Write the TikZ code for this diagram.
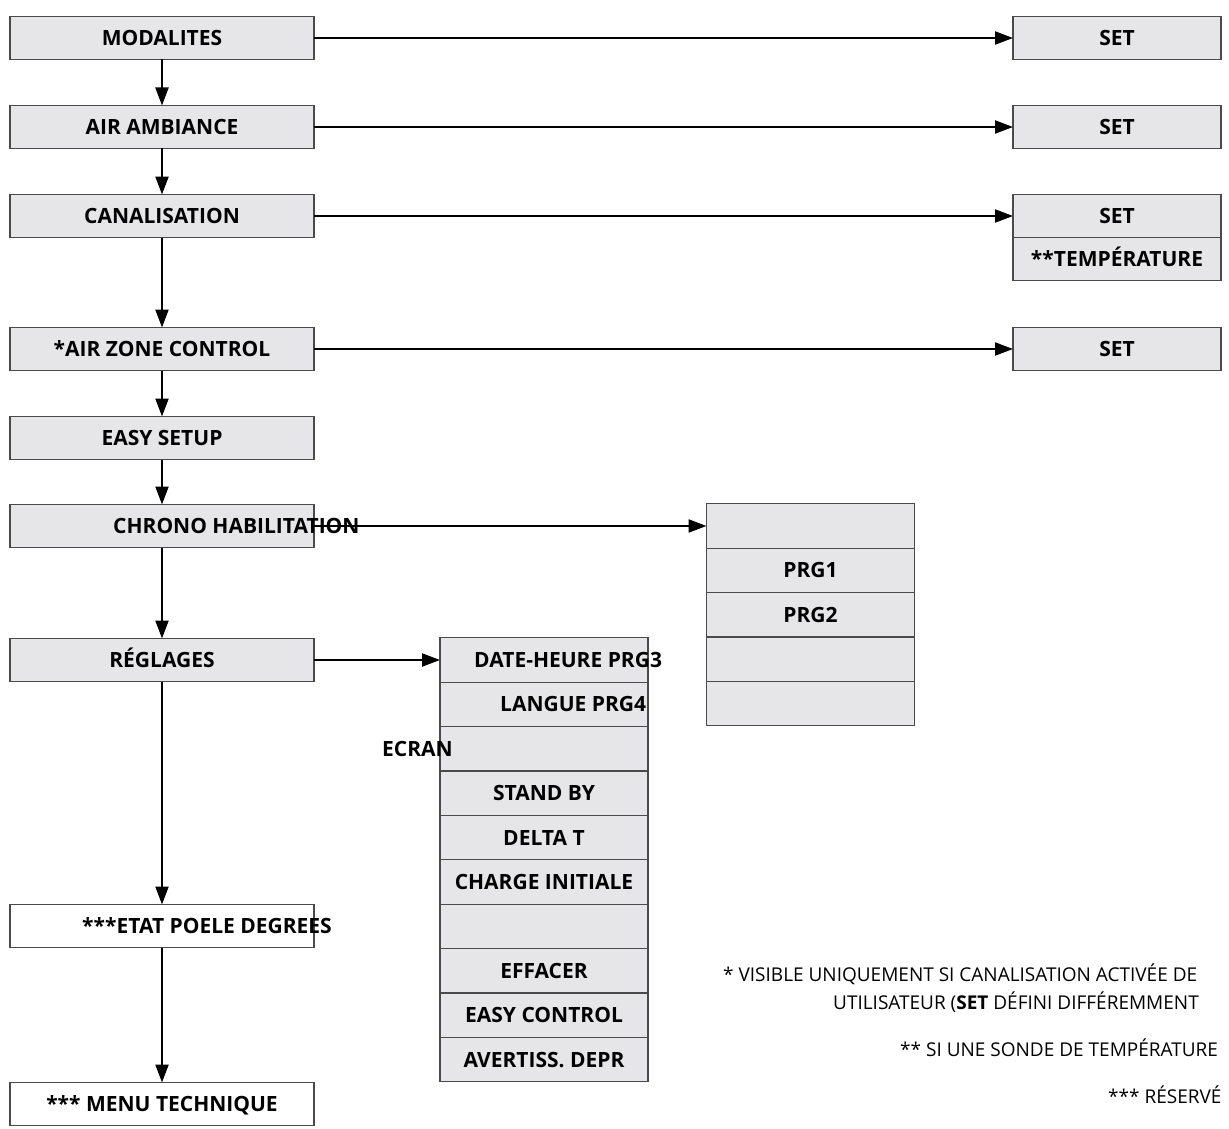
\documentclass[tikz,border=0pt]{standalone}
\usepackage{fontspec}
\setmainfont{Open Sans}
\usepackage{xcolor}
\usetikzlibrary{arrows.meta,positioning}
\definecolor{boxfill}{HTML}{E6E6E8}
\definecolor{boxline}{HTML}{4A4A4A}

\begin{document}
\begin{tikzpicture}[x=1pt, y=1pt,
  menu/.style={draw=boxline, fill=boxfill, line width=1.3pt, minimum width=304pt, minimum height=43pt,
    inner sep=0pt, outer sep=0pt, text height=15pt, text depth=0pt, font=\fontsize{21}{25}\selectfont\bfseries},
  tech/.style={menu, fill=white},
  setbox/.style={menu, minimum width=208pt},
  row/.style={menu, minimum width=208pt, minimum height=44.4pt},
  lbl/.style={inner sep=0pt, text height=15pt, text depth=0pt, font=\fontsize{21}{25}\selectfont\bfseries},
  note/.style={inner sep=0pt, anchor=west, text height=13.6pt, text depth=0pt, font=\fontsize{19}{23}\selectfont},
  arr/.style={line width=2.2pt, -{Triangle[length=18pt, width=13pt]}}
]
  \useasboundingbox (0,0) rectangle (1229,-1129);

  % main menu
  \node[menu] (modal) at (162,-38) {MODALITES};
  \node[menu] (airamb) at (162,-127) {AIR AMBIANCE};
  \node[menu] (canal) at (162,-216) {CANALISATION};
  \node[menu] (zone) at (162,-349) {*AIR ZONE CONTROL};
  \node[menu] (easy) at (162,-438) {EASY SETUP};
  \node[menu] (chrono) at (162,-526) {};
  \node[lbl, right=103pt of chrono.west] (chronolbl) {CHRONO HABILITATION};
  \node[menu] (regl) at (162,-660) {RÉGLAGES};
  \node[tech] (etat) at (162,-926) {};
  \node[lbl, right=72pt of etat.west] (etatlbl) {***ETAT POELE DEGREES};
  \node[tech] (techn) at (162,-1104) {*** MENU TECHNIQUE};

  % set column
  \node[setbox] (set1) at (1117,-38) {SET};
  \node[setbox] (set2) at (1117,-127) {SET};
  \node[setbox] (set3) at (1117,-216) {SET};
  \node[setbox, below=0pt of set3] (temp) {**TEMPÉRATURE};
  \node[setbox] (set4) at (1117,-349) {SET};

  % chrono programs
  \node[row] (prg0) at (810.5,-526) {};
  \node[row, below=0pt of prg0] (prg1) {PRG1};
  \node[row, below=0pt of prg1] (prg2) {PRG2};
  \node[row, below=0pt of prg2] (prg3) {};
  \node[row, below=0pt of prg3] (prg4) {};

  % settings
  \node[row] (m1) at (544,-660) {};
  \node[lbl, right=34pt of m1.west] (m1lbl) {DATE-HEURE PRG3};
  \node[row, below=0pt of m1] (m2) {};
  \node[lbl, right=60pt of m2.west] (m2lbl) {LANGUE PRG4};
  \node[row, below=0pt of m2] (m3) {};
  \node[lbl, right=-58pt of m3.west] (m3lbl) {ECRAN};
  \node[row, below=0pt of m3] (m4) {STAND BY};
  \node[row, below=0pt of m4] (m5) {DELTA T};
  \node[row, below=0pt of m5] (m6) {CHARGE INITIALE};
  \node[row, below=0pt of m6] (m7) {};
  \node[row, below=0pt of m7] (m8) {EFFACER};
  \node[row, below=0pt of m8] (m9) {EASY CONTROL};
  \node[row, below=0pt of m9] (m10) {AVERTISS. DEPR};

  % notes
  \node[note] (n1) at (723,-975) {* VISIBLE UNIQUEMENT SI CANALISATION ACTIVÉE DE};
  \node[note] (n2) at (833,-1003) {UTILISATEUR (\textbf{SET} DÉFINI DIFFÉREMMENT};
  \node[note] (n3) at (900,-1050) {** SI UNE SONDE DE TEMPÉRATURE};
  \node[note] (n4) at (1108,-1097) {*** RÉSERVÉ};

  \draw[arr] (modal) -- (airamb); \draw[arr] (airamb) -- (canal); \draw[arr] (canal) -- (zone);
  \draw[arr] (zone) -- (easy); \draw[arr] (easy) -- (chrono); \draw[arr] (chrono) -- (regl);
  \draw[arr] (regl) -- (etat); \draw[arr] (etat) -- (techn);
  \draw[arr] (modal) -- (set1); \draw[arr] (airamb) -- (set2); \draw[arr] (canal) -- (set3);
  \draw[arr] (zone) -- (set4); \draw[arr] (chrono) -- (prg0); \draw[arr] (regl) -- (m1);
\end{tikzpicture}
\end{document}
